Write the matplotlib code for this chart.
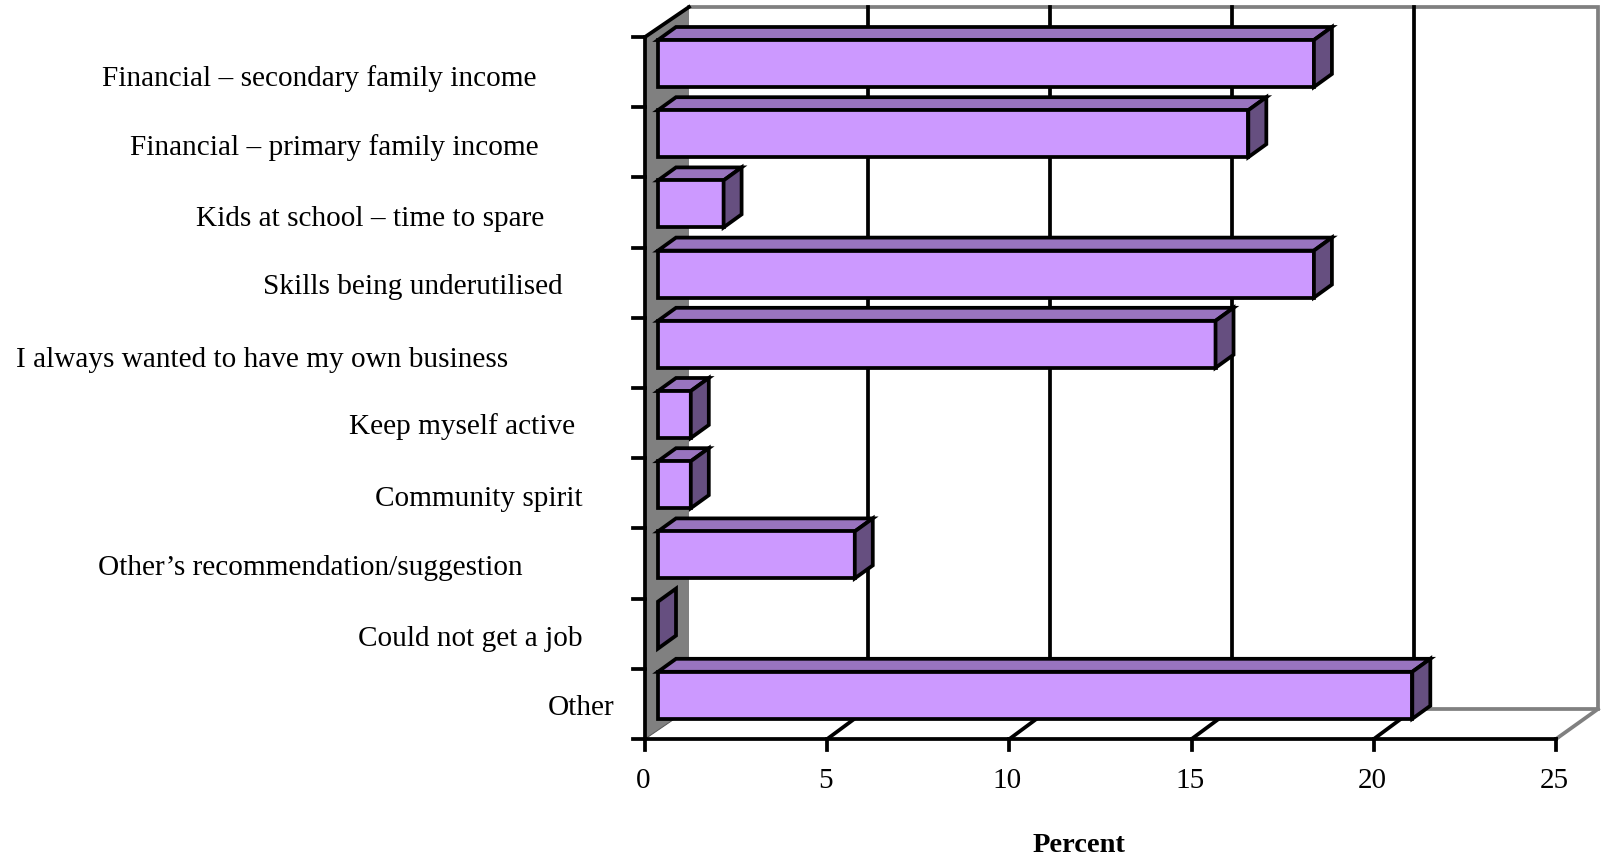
import matplotlib
matplotlib.use("Agg")
import matplotlib.pyplot as plt
from matplotlib.patches import Polygon

categories = ["Financial \u2013 secondary family income", "Financial \u2013 primary family income",
              "Kids at school \u2013 time to spare", "Skills being underutilised",
              "I always wanted to have my own business", "Keep myself active", "Community spirit",
              "Other\u2019s recommendation/suggestion", "Could not get a job", "Other"]
percent = [18.0, 16.2, 1.8, 18.0, 15.3, 0.9, 0.9, 5.4, 0.0, 20.7]
x_ticks = [0, 5, 10, 15, 20, 25]

# layout, in figure pixels
W, H = 1603, 857
X0, X_UNIT = 645, 36.44
Y0, Y_UNIT = 37, 70.2
label_right = [536, 539, 544, 563, 508, 575, 583, 523, 583, 614]
label_y = [79, 148, 219, 287, 360, 427, 499, 568, 639, 708]

FACE = "#CC99FF"
TOP = "#9974BF"
SIDE = "#664F80"
WALL = "#808080"
SERIF = "Liberation Serif"

fig = plt.figure(figsize=(W / 100, H / 100), dpi=100)
ax = fig.add_axes([0, 0, 1, 1])
ax.set_xlim(-X0 / X_UNIT, (W - X0) / X_UNIT)
ax.set_ylim((H - Y0) / Y_UNIT, -Y0 / Y_UNIT)
ax.axis("off")


def dx(px):
    return px / X_UNIT


def dy(px):
    return px / Y_UNIT


n = len(categories)
wall_dx, wall_dy = dx(42), dy(-30)
side_dx, grid_dx = dx(44), dx(40.5)
LW = 2.7

# left wall and back wall
ax.add_patch(Polygon([(0, 0), (side_dx, wall_dy), (side_dx, n + wall_dy), (0, n)],
                     facecolor=WALL, edgecolor="none", zorder=1))
xmax = x_ticks[-1]
ax.plot([side_dx, xmax + wall_dx, xmax + wall_dx, grid_dx],
        [wall_dy, wall_dy, n + wall_dy, n + wall_dy], color=WALL, lw=LW, zorder=1, solid_joinstyle="miter")
ax.plot([xmax, xmax + wall_dx], [n, n + wall_dy], color=WALL, lw=LW, zorder=1)
ax.plot([0, side_dx], [n, n + wall_dy], color="#555555", lw=0.7, zorder=2)

# gridlines and floor lines
for t in x_ticks[1:-1]:
    ax.plot([t + grid_dx, t + grid_dx], [wall_dy, n + wall_dy], color="black", lw=LW, zorder=2)
    ax.plot([t, t + grid_dx], [n, n + wall_dy], color="black", lw=LW, zorder=2)

# axes and ticks
ax.plot([0, 0], [0, n], color="black", lw=LW, zorder=3)
ax.plot([0, xmax], [n, n], color="black", lw=LW, zorder=3)
ax.plot([0, side_dx], [0, wall_dy], color="black", lw=LW, zorder=3)
for i in range(n + 1):
    ax.plot([dx(-12), 0], [i, i], color="black", lw=LW, zorder=3)
for t in x_ticks:
    ax.plot([t, t], [n, n + dy(11)], color="black", lw=LW, zorder=3)
    ax.text(t - dx(2), n + dy(42), str(t), family=SERIF, fontsize=21, ha="center", va="center")

# bars
bar_x0 = dx(13)
bar_top, bar_h = dy(3), dy(47)
bar_dx, bar_dy = dx(18), dy(-13)
for i, v in enumerate(percent):
    x1 = bar_x0 + v
    y0 = i + bar_top
    y1 = y0 + bar_h
    style = dict(edgecolor="black", linewidth=LW, joinstyle="miter", zorder=5)
    if v > 0:
        ax.add_patch(Polygon([(bar_x0, y0), (bar_x0 + bar_dx, y0 + bar_dy), (x1 + bar_dx, y0 + bar_dy), (x1, y0)],
                             facecolor=TOP, **style))
        ax.add_patch(Polygon([(bar_x0, y0), (x1, y0), (x1, y1), (bar_x0, y1)], facecolor=FACE, **style))
    ax.add_patch(Polygon([(x1, y0), (x1 + bar_dx, y0 + bar_dy), (x1 + bar_dx, y1 + bar_dy), (x1, y1)],
                         facecolor=SIDE, **style))

# category labels sit at their own offsets, not on a common edge
for name, rx, ry in zip(categories, label_right, label_y):
    ax.text((rx - X0) / X_UNIT, (ry - Y0) / Y_UNIT, name, family=SERIF, fontsize=21.1, ha="right", va="center")

ax.text((1079 - X0) / X_UNIT, (846 - Y0) / Y_UNIT, "Percent", family=SERIF, fontsize=20.5,
        fontweight="bold", ha="center", va="center")

fig.savefig("out.png", dpi=100)
